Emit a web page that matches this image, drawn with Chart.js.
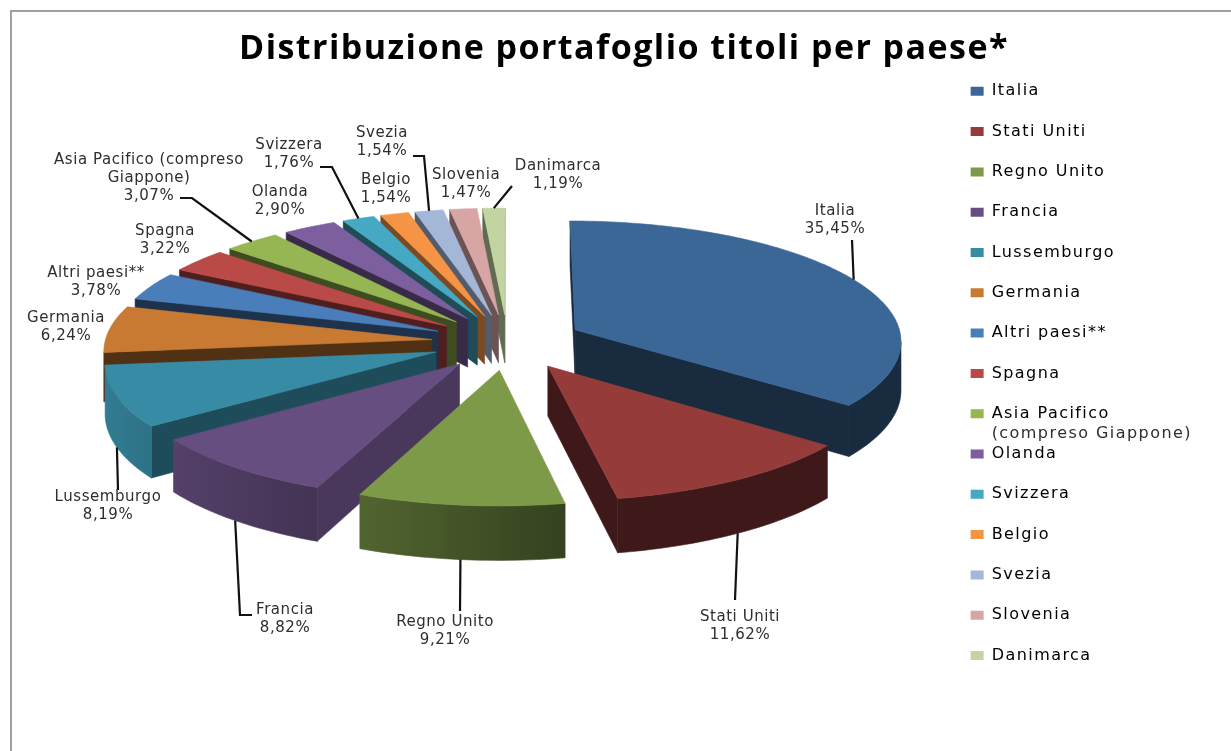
<!DOCTYPE html>
<html>
<head>
<meta charset="utf-8">
<style>
html,body{margin:0;padding:0;background:#fff;overflow:hidden}
#wrap{position:relative;width:1231px;height:751px}
canvas{display:block;filter:blur(0.45px)}
</style>
<script src="https://cdn.jsdelivr.net/npm/chart.js@4"></script>
</head>
<body>
<div id="wrap"><canvas id="c" width="1231" height="751"></canvas></div>
<script>
const TITLE = "Distribuzione portafoglio titoli per paese*";
const categories = ["Italia","Stati Uniti","Regno Unito","Francia","Lussemburgo","Germania","Altri paesi**","Spagna","Asia Pacifico (compreso Giappone)","Olanda","Svizzera","Belgio","Svezia","Slovenia","Danimarca"];
const values = [35.45,11.62,9.21,8.82,8.19,6.24,3.78,3.22,3.07,2.90,1.76,1.54,1.54,1.47,1.19];
const topColors = ["#3b6797","#953c3b","#7d9a49","#664e80","#378ba4","#c87a33","#4a7ebb","#ba4a47","#95b652","#7d5fa0","#46a9c4","#f59445","#a5b7d8","#d8a5a5","#c2d5a1"];
const wallShades = [0.42,0.42,0.5,0.72,0.55,0.4,0.4,0.42,0.42,0.45,0.45,0.5,0.5,0.5,0.5];
/* label block centres and the elbows of the leader lines */
const labelLines = [["Italia"],["Stati Uniti"],["Regno Unito"],["Francia"],["Lussemburgo"],["Germania"],["Altri paesi**"],["Spagna"],["Asia Pacifico (compreso","Giappone)"],["Olanda"],["Svizzera"],["Belgio"],["Svezia"],["Slovenia"],["Danimarca"]];
const labelCenters = [[835,211],[740,617],[445,622],[285,610],[108,497],[66,318],[96,273],[165,231],[149,160],[280,192],[289,145],[386,180],[382,133],[466,175],[558,166]];
const leaderElbows = [[[852,240]],[[735,600]],[[460,611]],[[252,615],[240,615]],[[118,490]],null,null,null,[[180,198],[192,198]],null,[[320,167],[332,167]],null,[[413,156],[424,156]],null,[[512,186]]];

const CENTER_X = 507.5, CENTER_Y = 342, TILT = 0.366, PERSP = 0.082, DEPTH = 49, RADIUS = 327, EXPLODE = 76;
const LABEL_FONT = '15px "DejaVu Sans"';
const TEXT = '#2e2e2e';

function project(el, angle, rad, z){
  const off = el.options.offset || 0;
  const m = (el.startAngle + el.endAngle) / 2;
  const X = rad * Math.cos(angle) + off * Math.cos(m);
  const Y = rad * Math.sin(angle) + off * Math.sin(m);
  const d = 1 - PERSP * Y / el.outerRadius;
  return {x: CENTER_X + X / d, y: CENTER_Y + (TILT * Y + z) / d};
}
function shade(hex, f){
  const n = parseInt(hex.slice(1),16);
  return 'rgb(' + [(n>>16)&255,(n>>8)&255,n&255].map(c=>Math.round(c*f)).join(',') + ')';
}
function poly(ctx, pts, fill){
  ctx.fillStyle = fill; ctx.strokeStyle = fill; ctx.lineWidth = 0.6;
  ctx.beginPath(); pts.forEach((p,i)=> i?ctx.lineTo(p.x,p.y):ctx.moveTo(p.x,p.y));
  ctx.closePath(); ctx.fill(); ctx.stroke();
}
function drawSlice(ctx, el, i){
  const color = el.options.backgroundColor, R = el.outerRadius;
  const a0 = el.startAngle, a1 = el.endAngle;
  const wall = shade(color, wallShades[i]);
  const tipT = project(el, 0, 0, 0), tipB = project(el, 0, 0, DEPTH);
  const s0T = project(el, a0, R, 0), s0B = project(el, a0, R, DEPTH);
  const s1T = project(el, a1, R, 0), s1B = project(el, a1, R, DEPTH);
  if (s0T.x - tipT.x < 0) poly(ctx, [tipT,s0T,s0B,tipB], wall);
  if (tipT.x - s1T.x < 0) poly(ctx, [s1T,tipT,tipB,s1B], wall);
  const steps = Math.max(2, Math.ceil((a1 - a0) / 0.02));
  const tops = [], bots = [], samples = [];
  for (let k = 0; k <= steps; k++){
    const b = a0 + (a1-a0)*k/steps;
    const p = project(el,b,R,0), q = project(el,b+(a1-a0)/steps,R,0);
    if (k < steps && q.x - p.x >= 0 && !tops.length) continue;
    if (tops.length && project(el,b-(a1-a0)/steps,R,0).x - p.x <= 0) continue;
    tops.push(p); bots.unshift(project(el,b,R,DEPTH));
    const nx = Math.cos(b);
    samples.push({x:p.x, f: nx >= 0.2 ? 0.42 : 0.42 + 0.48 * (0.2 - nx) / 1.2});
  }
  if (tops.length > 1){
    const xs = samples.map(s=>s.x), xa = Math.min(...xs), xb = Math.max(...xs);
    const g = ctx.createLinearGradient(xa,0,xb,0);
    samples.forEach(s=>g.addColorStop((s.x-xa)/Math.max(xb-xa,1), shade(color,s.f)));
    poly(ctx, tops.concat(bots), g);
  }
  const top = [tipT];
  for (let k = 0; k <= steps; k++) top.push(project(el, a0 + (a1-a0)*k/steps, R, 0));
  poly(ctx, top, color);
}
const pie3d = {
  id: 'pie3d',
  beforeLayout(chart){ chart.ctx.letterSpacing = '1.45px'; },
  beforeDraw(chart){
    const ctx = chart.ctx;
    ctx.save();
    ctx.fillStyle = '#fff'; ctx.fillRect(0,0,chart.width,chart.height);
    ctx.fillStyle = '#a0a0a0';
    ctx.fillRect(10,10,chart.width-10,2);
    ctx.fillRect(10,10,2,chart.height-10);
    ctx.restore();
    ctx.letterSpacing = '1.45px';
  },
  beforeDatasetDraw(chart, args){
    const ctx = chart.ctx, arcs = chart.getDatasetMeta(args.index).data;
    const order = arcs.map((el,i)=>({el,i,v:Math.sin((el.startAngle+el.endAngle)/2)})).sort((a,b)=>a.v-b.v);
    ctx.save();
    order.forEach(o=>drawSlice(ctx,o.el,o.i));
    ctx.restore();
    return false;
  },
  afterDraw(chart){
    const ctx = chart.ctx, arcs = chart.getDatasetMeta(0).data;
    ctx.save();
    ctx.fillStyle = TEXT; ctx.textBaseline='middle';
    /* second line of the wrapped legend entry */
    const hb = chart.legend.legendHitBoxes[8];
    ctx.letterSpacing = '1.45px';
    ctx.font = '16px "DejaVu Sans"';
    ctx.textAlign='left';
    ctx.fillText('(compreso Giappone)', hb.left + 13 + 8, hb.top + hb.height/2 + 20);

    ctx.letterSpacing = '0.55px';
    ctx.strokeStyle = '#111'; ctx.lineWidth = 2.2; ctx.lineJoin='miter';
    arcs.forEach((el,i)=>{
      const e = leaderElbows[i]; if (!e) return;
      const m = (el.startAngle+el.endAngle)/2;
      const a = project(el,m,el.outerRadius,Math.sin(m)>0?DEPTH:0);
      ctx.beginPath(); ctx.moveTo(e[0][0],e[0][1]);
      e.slice(1).forEach(p=>ctx.lineTo(p[0],p[1]));
      ctx.lineTo(a.x,a.y); ctx.stroke();
    });
    ctx.font = LABEL_FONT; ctx.textAlign='center';
    values.forEach((v,i)=>{
      const lines = labelLines[i].concat(v.toFixed(2).replace('.',',')+'%');
      lines.forEach((t,k)=>ctx.fillText(t,labelCenters[i][0],labelCenters[i][1]+k*18.2));
    });
    ctx.restore();
  }
};
new Chart(document.getElementById('c'),{
  type:'pie',
  data:{labels:categories,datasets:[{data:values,backgroundColor:topColors,offset:EXPLODE,borderWidth:0,radius:RADIUS}]},
  plugins:[pie3d],
  options:{
    responsive:false,animation:false,events:[],
    radius:RADIUS,
    layout:{padding:{left:123,right:106,top:59,bottom:0}},
    plugins:{
      tooltip:{enabled:false},
      title:{display:true,text:TITLE,color:'#000',font:{family:'"Open Sans"',size:34,weight:'bold'},padding:{top:-30,bottom:30}},
      legend:{position:'right',align:'start',
        labels:{boxWidth:13,boxHeight:9,padding:24.3,color:TEXT,font:{family:'"DejaVu Sans"',size:16},
          generateLabels(chart){
            return categories.map((c,i)=>({text:i===8?'Asia Pacifico':c,fillStyle:topColors[i],strokeStyle:topColors[i],lineWidth:0,index:i}));
          }}}
    }
  }
});
</script>
</body>
</html>
